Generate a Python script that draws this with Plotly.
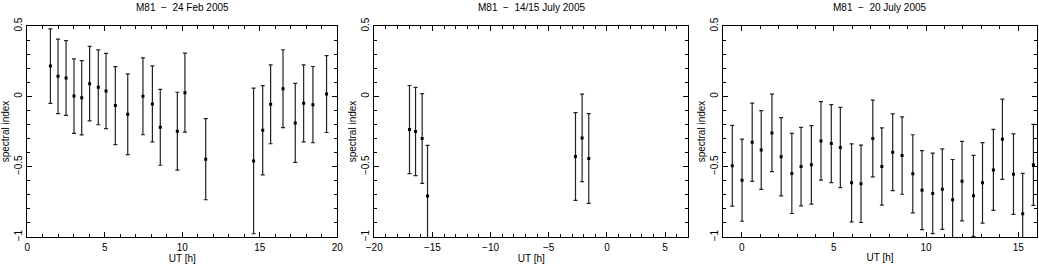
import plotly.graph_objects as go

# 24 Feb 2005
feb_ut = [1.49, 1.98, 2.50, 3.01, 3.51, 4.02, 4.58, 5.08, 5.68, 6.48, 7.46, 8.07,
          8.58, 9.68, 10.17, 11.51, 14.60, 15.19, 15.70, 16.50, 17.29, 17.83, 18.43, 19.31]
feb_idx = [0.215, 0.142, 0.130, 0.002, -0.010, 0.090, 0.064, 0.038, -0.066, -0.128, 0.000, -0.054,
           -0.220, -0.248, 0.026, -0.447, -0.459, -0.241, -0.057, 0.054, -0.189, -0.050, -0.059, 0.016]
feb_err = [0.265, 0.265, 0.266, 0.265, 0.264, 0.265, 0.266, 0.267, 0.277, 0.287, 0.273, 0.270,
           0.270, 0.277, 0.281, 0.288, 0.518, 0.317, 0.280, 0.277, 0.281, 0.274, 0.271, 0.273]

# 14/15 July 2005
jul14_ut = [-16.97, -16.45, -15.88, -15.42, -2.70, -2.13, -1.56]
jul14_idx = [-0.236, -0.250, -0.300, -0.709, -0.428, -0.296, -0.442]
jul14_err = [0.313, 0.314, 0.319, 0.360, 0.312, 0.311, 0.319]

# 20 July 2005
jul20_ut = [-0.51, 0.02, 0.57, 1.06, 1.64, 2.14, 2.72, 3.22, 3.78, 4.30, 4.86, 5.35, 5.96, 6.47,
            7.11, 7.60, 8.19, 8.70, 9.28, 9.78, 10.36, 10.88, 11.44, 11.95, 12.57, 13.06, 13.65,
            14.14, 14.74, 15.24, 15.82]
jul20_idx = [-0.494, -0.596, -0.326, -0.381, -0.260, -0.430, -0.548, -0.499, -0.487, -0.317, -0.336,
             -0.364, -0.615, -0.622, -0.300, -0.499, -0.397, -0.421, -0.551, -0.667, -0.690, -0.660,
             -0.735, -0.603, -0.707, -0.615, -0.523, -0.305, -0.553, -0.834, -0.487]
jul20_err = [0.287, 0.292, 0.278, 0.280, 0.275, 0.278, 0.285, 0.279, 0.279, 0.279, 0.277, 0.285,
             0.277, 0.275, 0.273, 0.275, 0.273, 0.275, 0.278, 0.281, 0.286, 0.286, 0.286, 0.283,
             0.288, 0.286, 0.288, 0.285, 0.286, 0.286, 0.288]

titles = ["M81  \u2212  24 Feb 2005", "M81  \u2212  14/15 July 2005", "M81  \u2212  20 July 2005"]
x_ranges = [[0, 20], [-20, 7], [-1, 16]]
x_domains = [[0.0263, 0.3246], [0.3602, 0.6625], [0.6961, 0.9978]]
y_domain = [0.1222, 0.9037]

FONT = "Liberation Sans, Arial, sans-serif"
panels = [(feb_ut, feb_idx, feb_err), (jul14_ut, jul14_idx, jul14_err), (jul20_ut, jul20_idx, jul20_err)]

fig = go.Figure()
layout = dict(
    width=1039, height=270,
    margin=dict(l=0, r=0, t=0, b=0, autoexpand=False),
    plot_bgcolor="white", paper_bgcolor="white",
    showlegend=False,
    font=dict(family=FONT, size=10, color="black"),
)
annotations = []

for i, (ux, uy, ue) in enumerate(panels):
    n = "" if i == 0 else str(i + 1)
    fig.add_trace(go.Scatter(
        x=ux, y=uy, mode="markers",
        marker=dict(symbol="square", size=3, color="black"),
        error_y=dict(type="data", array=ue, visible=True, color="#222222", thickness=1.2, width=2),
        xaxis="x" + n, yaxis="y" + n, cliponaxis=True,
    ))
    common = dict(
        showline=True, linecolor="black", linewidth=1, mirror="ticks",
        ticks="inside", ticklen=5, tickcolor="black", tickwidth=1,
        showgrid=False, zeroline=False, automargin=False,
        tickfont=dict(family=FONT, size=10, color="black"),
    )
    layout["xaxis" + n] = dict(
        domain=x_domains[i], range=x_ranges[i], anchor="y" + n, dtick=5, tick0=0,
        minor=dict(dtick=1, ticks="inside", ticklen=3, tickcolor="black", showgrid=False),
        title=dict(text="UT [h]", font=dict(family=FONT, size=10), standoff=1),
        ticklabelstandoff=1,
        **common,
    )
    layout["yaxis" + n] = dict(
        domain=y_domain, range=[-1, 0.5], anchor="x" + n, dtick=0.5, tick0=0,
        minor=dict(dtick=0.1, ticks="inside", ticklen=3, tickcolor="black", showgrid=False),
        tickangle=-90,
        title=dict(text="spectral index", font=dict(family=FONT, size=10), standoff=1),
        **common,
    )
    annotations.append(dict(
        text=titles[i], xref="paper", yref="paper",
        x=sum(x_domains[i]) / 2, y=1, xanchor="center", yanchor="top", yshift=0,
        showarrow=False, font=dict(family=FONT, size=10, color="black"),
    ))

layout["annotations"] = annotations
fig.update_layout(**layout)
fig.write_html(
    "out.html",
    config={"displayModeBar": False},
    post_script="document.body.style.margin='0';document.body.style.overflow='hidden';",
)
